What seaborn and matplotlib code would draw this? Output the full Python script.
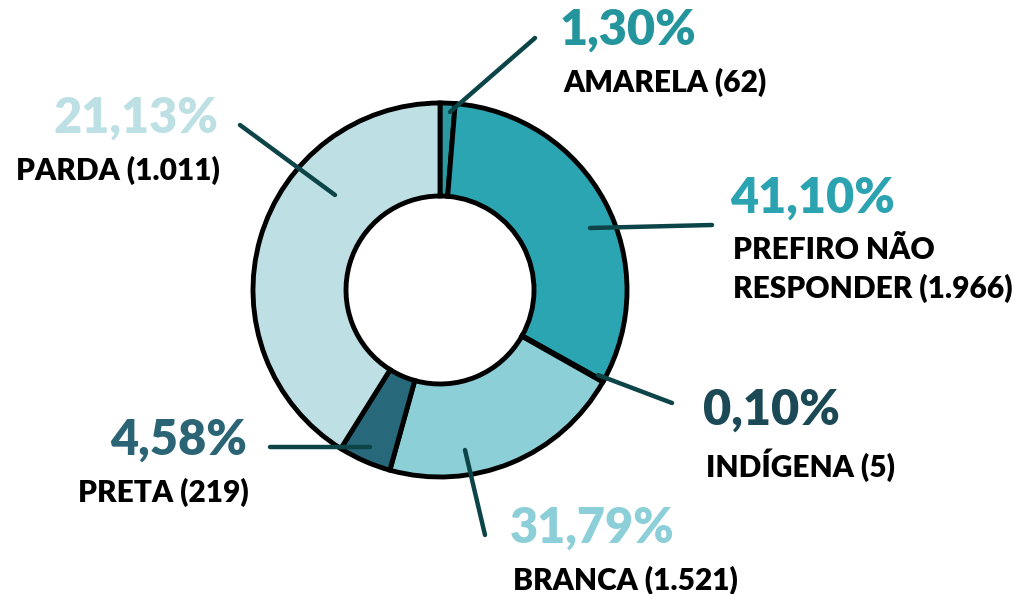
import numpy as np
import matplotlib
matplotlib.use("Agg")
import matplotlib.pyplot as plt
import seaborn as sns

sns.set_theme(style="white")
plt.rcParams['font.family'] = ['Lato', 'DejaVu Sans']

# data, clockwise from the top
categories = ["AMARELA", "PREFIRO NÃO\nRESPONDER", "INDÍGENA", "BRANCA", "PRETA", "PARDA"]
count_labels = ["62", "1.966", "5", "1.521", "219", "1.011"]
pct_labels = ["1,30%", "41,10%", "0,10%", "31,79%", "4,58%", "21,13%"]
# slice sizes as drawn in the source chart (its slices don't follow the labels)
slice_share = [1.30, 31.79, 0.10, 21.13, 4.58, 41.10]

slice_colors = ["#2a9aa0", "#2ca5b3", "#1b4552", "#8dcfd7", "#27687a", "#bee0e5"]
pct_colors = ["#24959c", "#2ca3b0", "#1b4a56", "#8ccfd8", "#2a6475", "#bde0e5"]
line_color = "#0c4447"

H = 594
center = (440, H - 290)
radius = 187
ring = 93

# label layout: (x, y_top in image px, ha), connector start/end in image px
layout = [
    (560, 12, "left", (450, 112), (535, 38)),
    (730, 180, "left", (590, 228), (712, 225)),
    (703, 392, "left", (598, 375), (672, 403)),
    (510, 510, "left", (465, 450), (485, 535)),
    (247, 422, "right", (370, 447), (270, 447)),
    (218, 100, "right", (335, 195), (240, 125)),
]

fig = plt.figure(figsize=(10.15, 5.94), dpi=100)
ax = fig.add_axes([0, 0, 1, 1])

ax.pie(slice_share, colors=slice_colors, startangle=90, counterclock=False,
       radius=radius, center=center,
       wedgeprops=dict(width=ring, edgecolor="black", linewidth=3.5))

for i, (tx, ty, ha, p0, p1) in enumerate(layout):
    ax.plot([p0[0], p1[0]], [H - p0[1], H - p1[1]], color=line_color,
            lw=3.2, solid_capstyle="round", zorder=5)
    ax.text(tx, H - ty + 4, pct_labels[i], color=pct_colors[i], fontsize=35,
            fontweight="heavy", ha=ha, va="top")
    name = categories[i] + " (" + count_labels[i] + ")"
    ax.text(tx + (3 if ha == "left" else 2), H - ty - 56, name, color="black",
            fontsize=21.5, fontweight="heavy", ha=ha, va="top", linespacing=1.42)

ax.set_xlim(0, 1015)
ax.set_ylim(0, H)
ax.set_aspect("equal")
ax.axis("off")

fig.savefig("out.png", dpi=100, facecolor="white")
